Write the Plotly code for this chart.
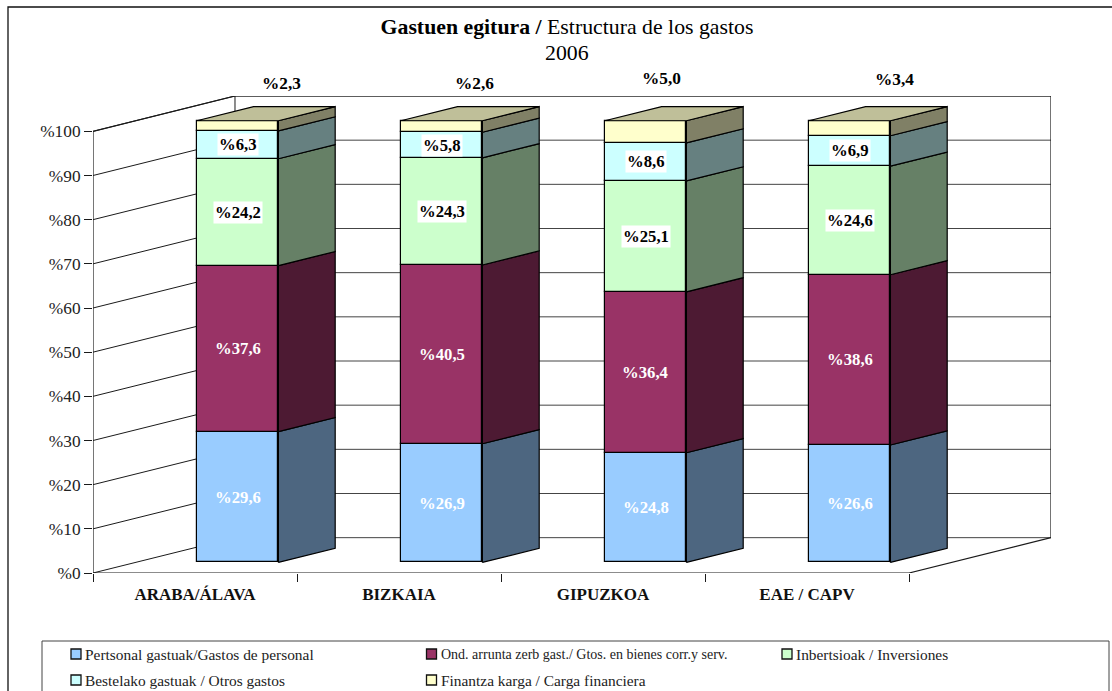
import plotly.graph_objects as go

# ---- data ----
categories = ["ARABA/ÁLAVA", "BIZKAIA", "GIPUZKOA", "EAE / CAPV"]
personal = [29.6, 26.9, 24.8, 26.6]
bienes = [37.6, 40.5, 36.4, 38.6]
inversiones = [24.2, 24.3, 25.1, 24.6]
otros = [6.3, 5.8, 8.6, 6.9]
financiera = [2.3, 2.6, 5.0, 3.4]
series_names = [
    "Pertsonal gastuak/Gastos de personal",
    "Ond. arrunta zerb gast./ Gtos. en bienes corr.y serv.",
    "Inbertsioak / Inversiones",
    "Bestelako gastuak / Otros gastos",
    "Finantza karga / Carga financiera",
]
y_ticks = [0, 10, 20, 30, 40, 50, 60, 70, 80, 90, 100]
top_label_dx = [0.213, 0.159, 0.079, 0.222]
top_label_shift = [13, 13, 18, 17]

series = [personal, bienes, inversiones, otros, financiera]
front_colors = ["#99CCFF", "#993366", "#CCFFCC", "#CCFFFF", "#FFFFCC"]
side_colors = ["#4D6680", "#4D1A33", "#668066", "#668080", "#808066"]
top_color = "#BFBF99"
label_colors = ["white", "white", "black", "black"]
label_bg = [None, None, "white", "white"]
legend_cols = [71, 426.5, 782, 71, 426.5]
legend_rows = [654, 654, 654, 680, 680]
legend_sizes = [15.4, 14, 15.4, 15.4, 15.4]

# ---- layout geometry (page pixels) and oblique projection ----
W, H = 1112, 691
PLOT_L, PLOT_R, PLOT_T, PLOT_B = 93, 1051, 96, 573
DEPTH_X = 0.696   # category units for the full floor depth
DEPTH_Y = 8.0     # percent units for the full floor depth
Z0, Z1 = 0.3, 0.7  # depth range occupied by the bars
BAR_W = 0.4
FONT = "Liberation Serif"
INK = "#1a1a1a"


def px(x):
    return x / W


def py(y):
    return 1 - y / H


# normalised cumulative stacks (100 % stacked chart)
n = len(categories)
totals = [sum(s[i] for s in series) for i in range(n)]
bases, tops = [], []
for k, s in enumerate(series):
    b = [0.0] * n if k == 0 else tops[-1]
    t = [b[i] + s[i] * 100 / totals[i] for i in range(n)]
    bases.append(b)
    tops.append(t)

centres = [i + 0.5 for i in range(n)]
fx = [c + Z0 * DEPTH_X for c in centres]   # front face centre
fy = Z0 * DEPTH_Y
sx = (Z1 - Z0) * DEPTH_X
sy = (Z1 - Z0) * DEPTH_Y

fig = go.Figure()

# front faces: real bars
for k, s in enumerate(series):
    fig.add_trace(go.Bar(
        x=fx,
        y=[tops[k][i] - bases[k][i] for i in range(n)],
        base=[b + fy for b in bases[k]],
        width=BAR_W,
        name=series_names[k],
        marker=dict(color=front_colors[k], line=dict(color="black", width=1.2)),
        hoverinfo="skip",
        showlegend=False,
    ))

# side faces
for k in range(len(series)):
    xs, ys = [], []
    for i in range(n):
        right = fx[i] + BAR_W / 2
        b0, t0 = bases[k][i] + fy, tops[k][i] + fy
        xs += [right, right + sx, right + sx, right, right, None]
        ys += [b0, b0 + sy, t0 + sy, t0, b0, None]
    fig.add_trace(go.Scatter(
        x=xs, y=ys, mode="lines", fill="toself", fillcolor=side_colors[k],
        line=dict(color="black", width=1.2), showlegend=False, hoverinfo="skip",
    ))

# top faces
xs, ys = [], []
for i in range(n):
    a, c = fx[i] - BAR_W / 2, fx[i] + BAR_W / 2
    t0 = tops[-1][i] + fy
    xs += [a, c, c + sx, a + sx, a, None]
    ys += [t0, t0, t0 + sy, t0 + sy, t0, None]
fig.add_trace(go.Scatter(
    x=xs, y=ys, mode="lines", fill="toself", fillcolor=top_color,
    line=dict(color="black", width=1.2), showlegend=False, hoverinfo="skip",
))

# chart frame lines that never pass behind a bar
frame_x = [0, 0, None, 0, n, None, DEPTH_X, DEPTH_X + n, DEPTH_X + n, None,
           n, DEPTH_X + n, None, 0, DEPTH_X]
frame_y = [0, 100, None, 0, 0, None, 100 + DEPTH_Y, 100 + DEPTH_Y, DEPTH_Y, None,
           0, DEPTH_Y, None, 100, 100 + DEPTH_Y]
fig.add_trace(go.Scatter(
    x=frame_x, y=frame_y, mode="lines", line=dict(color=INK, width=1.2),
    cliponaxis=False, showlegend=False, hoverinfo="skip",
))

# walls (under the bars)
shapes = []
for v in y_ticks:
    shapes.append(dict(type="line", xref="x", yref="y", layer="below",
                       x0=0, y0=v, x1=DEPTH_X, y1=v + DEPTH_Y,
                       line=dict(color=INK, width=1)))
    shapes.append(dict(type="line", xref="x", yref="y", layer="below",
                       x0=DEPTH_X, y0=v + DEPTH_Y, x1=DEPTH_X + n, y1=v + DEPTH_Y,
                       line=dict(color="#444444", width=1)))
shapes.append(dict(type="line", xref="x", yref="y", layer="below",
                   x0=DEPTH_X, y0=DEPTH_Y, x1=DEPTH_X, y1=100 + DEPTH_Y,
                   line=dict(color=INK, width=1)))
# outer chart border and legend box
shapes.append(dict(type="rect", xref="paper", yref="paper",
                   x0=px(8), x1=px(1130), y0=py(7), y1=py(720),
                   line=dict(color="#111111", width=1.3)))
shapes.append(dict(type="rect", xref="paper", yref="paper",
                   x0=px(42), x1=px(1109), y0=py(641), y1=py(720),
                   line=dict(color="#444444", width=1)))


def fmt(v):
    return f"%{v:.1f}".replace(".", ",")


annotations = []
for k in range(4):
    for i in range(n):
        annotations.append(dict(
            x=fx[i], y=(bases[k][i] + tops[k][i]) / 2 + fy, xref="x", yref="y",
            text=f"<b>{fmt(series[k][i])}</b>", showarrow=False,
            font=dict(family=FONT, size=16.7, color=label_colors[k]),
            bgcolor=label_bg[k], borderpad=1,
        ))
for i in range(n):
    annotations.append(dict(
        x=fx[i] + top_label_dx[i], y=100 + DEPTH_Y, xref="x", yref="y",
        yanchor="middle", yshift=top_label_shift[i],
        text=f"<b>{fmt(financiera[i])}</b>", showarrow=False,
        font=dict(family=FONT, size=17.3, color="black"),
    ))
annotations.append(dict(
    x=px(567), y=py(53), xref="paper", yref="paper", yanchor="middle",
    text="2006", showarrow=False,
    font=dict(family=FONT, size=21.8, color="black"),
))

# legend: swatch + text for each series
for k, name in enumerate(series_names):
    cx, cy = legend_cols[k], legend_rows[k]
    shapes.append(dict(type="rect", xref="paper", yref="paper",
                       x0=px(cx), x1=px(cx + 10), y0=py(cy - 5), y1=py(cy + 5),
                       fillcolor=front_colors[k], line=dict(color="#111111", width=1.3)))
    annotations.append(dict(
        x=px(cx + 12), y=py(cy), xref="paper", yref="paper",
        xanchor="left", yanchor="middle",
        text=name, showarrow=False,
        font=dict(family=FONT, size=legend_sizes[k], color="#222222"),
    ))

fig.update_layout(
    width=W, height=H, autosize=False,
    margin=dict(l=0, r=0, t=0, b=0, pad=0, autoexpand=False),
    paper_bgcolor="white", plot_bgcolor="white",
    barmode="overlay", bargap=0,
    showlegend=False,
    font=dict(family=FONT, color="#222222"),
    title=dict(
        text="<b>Gastuen egitura /</b> Estructura de los gastos",
        x=px(567), xanchor="center", xref="paper",
        y=py(26), yanchor="middle", yref="container",
        font=dict(family=FONT, size=21.8, color="black"),
    ),
    xaxis=dict(
        domain=[px(PLOT_L), px(PLOT_R)],
        range=[0, DEPTH_X + n], tickmode="array",
        tickvals=centres, ticktext=[f"<b>{c}</b>" for c in categories],
        ticks="", showline=False, showgrid=False, zeroline=False,
        tickfont=dict(family=FONT, size=17, color="#111111"),
        ticklabelstandoff=9,
        minor=dict(tickmode="array", tickvals=list(range(n + 1)), ticks="outside",
                   ticklen=8, tickcolor=INK, tickwidth=1, showgrid=False),
        fixedrange=True,
    ),
    yaxis=dict(
        domain=[py(PLOT_B), py(PLOT_T)],
        range=[0, 100 + DEPTH_Y], tickmode="array",
        tickvals=y_ticks, ticktext=[f"%{v}" for v in y_ticks],
        ticks="outside", ticklen=8, tickcolor=INK, tickwidth=1,
        showline=False, showgrid=False, zeroline=False,
        tickfont=dict(family=FONT, size=17.3, color="#222222"),
        fixedrange=True,
    ),
    shapes=shapes, annotations=annotations,
)

fig.write_html(
    "out.html",
    config=dict(displayModeBar=False),
    post_script="document.body.style.margin='0';document.body.style.overflow='hidden';",
)
